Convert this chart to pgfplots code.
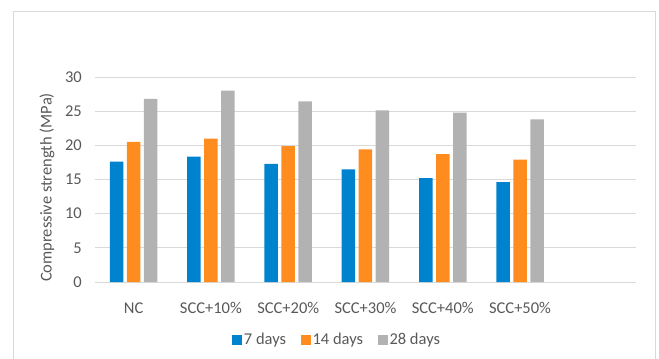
\documentclass[border=0pt]{standalone}
\usepackage{fontspec}
\setmainfont{Carlito}
\usepackage{pgfplots}
\pgfplotsset{compat=1.18}
\definecolor{cblue}{HTML}{0083CF}
\definecolor{corange}{HTML}{FF8C1E}
\definecolor{cgray}{HTML}{B2B2B2}
\definecolor{cgrid}{HTML}{D9D9D9}
\definecolor{ctext}{HTML}{595959}
\begin{document}
\fontsize{16.5bp}{19bp}\selectfont
\begin{tikzpicture}
\draw[cgrid, line width=1bp] (13bp,-11bp) rectangle (655bp,-380bp);
\begin{axis}[
  at={(95bp,-282bp)}, anchor=south west,
  scale only axis, width=541bp, height=205bp,
  ybar=3.5bp, bar width=13.5bp,
  xmin=-0.5, xmax=6.5, ymin=0, ymax=30,
  xtick={0,1,2,3,4,5},
  xticklabels={NC,SCC+10\%,SCC+20\%,SCC+30\%,SCC+40\%,SCC+50\%},
  ytick={0,5,10,15,20,25,30},
  ymajorgrids, grid style={cgrid, line width=1bp},
  axis line style={draw=none},
  tick style={draw=none},
  /pgf/number format/assume math mode=true,
  tick label style={text=ctext, font=\fontsize{16.5bp}{19bp}\selectfont},
  yticklabel style={anchor=east, inner sep=0pt, xshift=-13bp},
  xticklabel style={anchor=center, inner sep=0pt, yshift=-22bp},
  ylabel={Compressive strength (MPa)},
  every axis y label/.style={at={(axis description cs:0,0.5)}, xshift=-48bp, yshift=-8bp, rotate=90, anchor=center, text=ctext, font=\fontsize{16.5bp}{19bp}\selectfont},
  legend columns=3,
  legend style={at={(0.4473,-0.2829)}, anchor=center, draw=none, fill=none, text=ctext, font=\fontsize{16.5bp}{19bp}\selectfont, /tikz/every even column/.append style={column sep=12.5bp}},
  legend image code/.code={\fill[#1] (0bp,-5bp) rectangle (10bp,5bp);},
]
\addplot[fill=cblue, draw=none] coordinates {(0,17.6) (1,18.35) (2,17.3) (3,16.5) (4,15.2) (5,14.6)};
\addplot[fill=corange, draw=none] coordinates {(0,20.5) (1,21.0) (2,19.9) (3,19.4) (4,18.7) (5,17.9)};
\addplot[fill=cgray, draw=none] coordinates {(0,26.8) (1,28.0) (2,26.45) (3,25.1) (4,24.8) (5,23.8)};
\legend{7 days,14 days,28 days}
\end{axis}
\pgfresetboundingbox
\useasboundingbox (0,0) rectangle (659bp,-359bp);
\end{tikzpicture}
\end{document}
